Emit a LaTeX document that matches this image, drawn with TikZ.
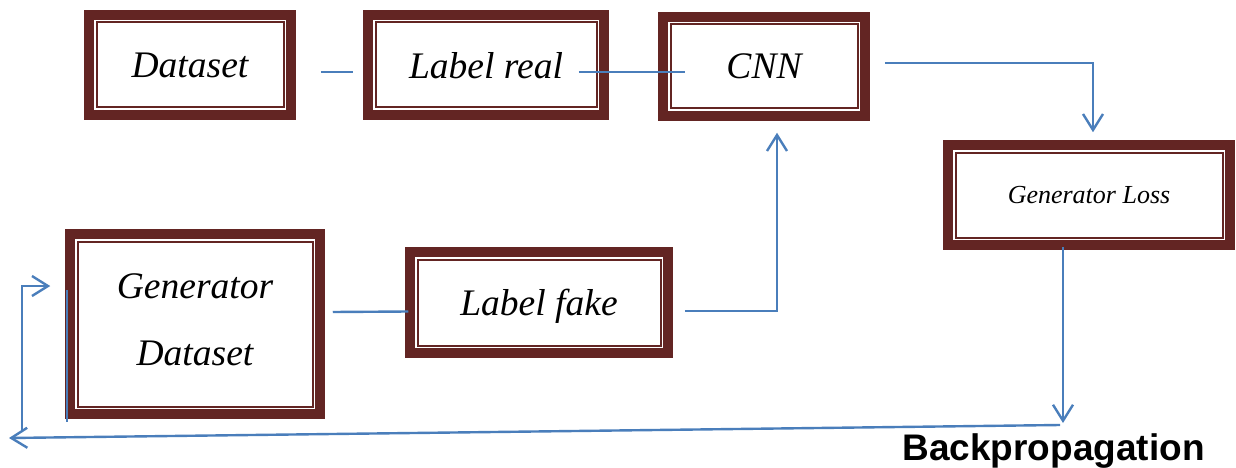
\documentclass[tikz,border=0pt]{standalone}
\usepackage{fontspec}
\newfontfamily\headfont{Liberation Sans}
\newfontfamily\boxfont{Liberation Serif}
\usetikzlibrary{arrows.meta}
\definecolor{maroon}{RGB}{99,37,35}
\definecolor{linkblue}{RGB}{74,126,187}

\begin{document}
\begin{tikzpicture}[x=1pt,y=-1pt,
  frame/.style={draw=maroon,line width=9.5pt,fill=white,inner sep=0pt,align=center,
    text depth=0pt,font=\fontsize{37.5}{67}\selectfont\boxfont\itshape},
  inner/.style={draw=maroon,line width=2pt,double=white,double distance=1.5pt},
  link/.style={draw=linkblue,line width=2.4pt},
  tip/.style={-{Straight Barb[length=16pt,width=20pt]}}]
\useasboundingbox (0,0) rectangle (1236,468);
\node[frame,minimum width=202pt,minimum height=100pt] (ds) at (190,65) {Dataset};
\node[frame,minimum width=236pt,minimum height=100pt] (lr) at (486,65) {Label real};
\node[frame,minimum width=202pt,minimum height=99pt] (cnn) at (764,66.5) {CNN};
\node[frame,minimum width=282pt,minimum height=100pt,
  font=\fontsize{26}{30}\selectfont\boxfont\itshape] (gl) at (1089,195) {Generator Loss};
\node[frame,minimum width=250pt,minimum height=180pt,text depth=8pt] (gd) at (195,324) {Generator\\Dataset};
\node[frame,minimum width=258pt,minimum height=101pt] (lf) at (539,302.5) {Label fake};
\node[font=\fontsize{37}{44}\selectfont\headfont\bfseries,anchor=base] (bp) at (1053.5,460) {Backpropagation};
% inner rules
\foreach \n in {ds,lr,cnn,gl,gd,lf}
  \draw[inner] ([shift={(10.5pt,-10.5pt)}]\n.north west) rectangle ([shift={(-10.5pt,10.5pt)}]\n.south east);
\coordinate (fd) at (1063,423);
\coordinate (fb) at (1060,425);
\coordinate (fl) at (9,438);
\coordinate (fu) at (22,430);
% links
\draw[link] ([xshift=25pt,yshift=-7pt]ds.east) -- ([xshift=-10pt,yshift=-7pt]lr.west);
\draw[link] ([xshift=-30pt,yshift=-7pt]lr.east) -- ([xshift=27pt,yshift=-5.5pt]cnn.west);
\draw[link,tip] ([xshift=15pt,yshift=3.5pt]cnn.east) -| ([xshift=4pt,yshift=8pt]gl.north);
\draw[link] ([xshift=8pt,yshift=12pt]gd.east) -- ([xshift=3pt,yshift=-9pt]lf.west);
\draw[link,tip] ([xshift=12pt,yshift=-8.5pt]lf.east) -| ([xshift=13pt,yshift=-12pt]cnn.south);
\draw[link,tip] ([xshift=-26pt,yshift=3pt]gl.south) -- (fd);
\draw[link,tip] (fb) -- (fl);
\draw[link,tip] (fu) |- ([xshift=-15pt,yshift=38pt]gd.west);
\draw[link] ([xshift=2pt,yshift=34pt]gd.west) -- ([xshift=2pt,yshift=-3pt]gd.south west);
\end{tikzpicture}
\end{document}
